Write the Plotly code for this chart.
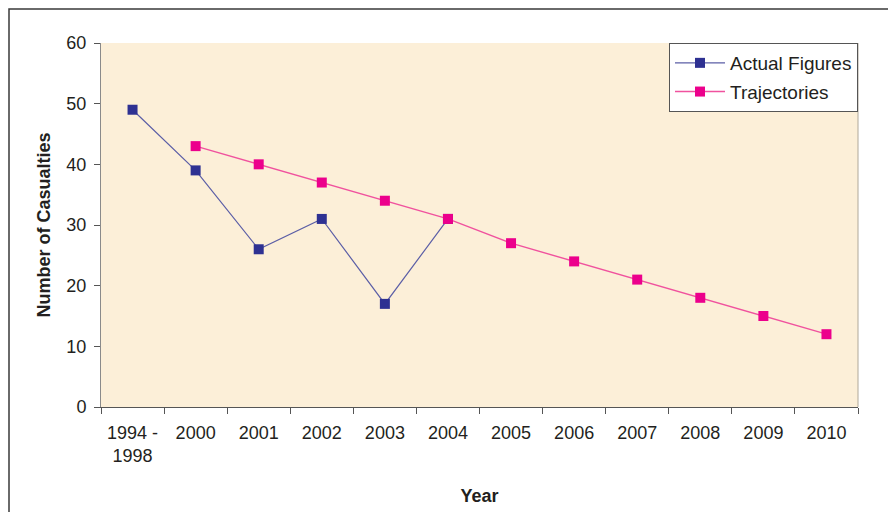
import plotly.graph_objects as go

# Casualty counts per period
years = ["1994 -<br>1998", "2000", "2001", "2002", "2003", "2004",
         "2005", "2006", "2007", "2008", "2009", "2010"]
actual_years = years[:6]
actual_values = [49, 39, 26, 31, 17, 31]
trajectory_years = years[1:]
trajectory_values = [43, 40, 37, 34, 31, 27, 24, 21, 18, 15, 12]

W, H = 888, 512
L, R, T, B = 101, 30, 43, 105
pw, ph = W - L - R, H - T - B

FONT = "Liberation Sans, Arial, sans-serif"
AXIS_COL = "#8a8a8a"
TEXT_COL = "#231f20"

fig = go.Figure()
fig.add_trace(go.Scatter(
    x=actual_years, y=actual_values, name="Actual Figures",
    mode="lines+markers", legendgroup="a",
    line=dict(color="#5b5ea6", width=1.2),
    marker=dict(symbol="square", size=10, color="#2e3192"),
))
fig.add_trace(go.Scatter(
    x=trajectory_years, y=trajectory_values, name="Trajectories",
    mode="lines+markers", legendgroup="t",
    line=dict(color="#f0529e", width=1.4),
    marker=dict(symbol="square", size=10, color="#ec008c"),
))

# outer frame around the whole chart
fig.add_shape(
    type="rect", xref="paper", yref="paper",
    x0=(9 - L) / pw, x1=(W + 5 - L) / pw,
    y0=-(H + 5 - T - ph) / ph, y1=1 + (T - 9) / ph,
    line=dict(color="#3a3a3a", width=1.5), layer="below",
)

fig.update_layout(
    width=W, height=H,
    margin=dict(l=L, r=R, t=T, b=B),
    paper_bgcolor="white",
    plot_bgcolor="#fcefd8",
    font=dict(family=FONT, size=18, color=TEXT_COL),
    showlegend=True,
    legend=dict(
        x=1, y=1, xanchor="right", yanchor="top",
        bgcolor="white", bordercolor="#555555", borderwidth=1,
        font=dict(size=19, color=TEXT_COL),
        itemwidth=50, tracegroupgap=1,
    ),
    xaxis=dict(
        type="category", categoryorder="array", categoryarray=years,
        tickson="boundaries", ticks="outside", ticklen=6,
        tickcolor="#555555", showline=True, linecolor="#555555", linewidth=1,
        showgrid=False, zeroline=False, tickangle=0, ticklabelstandoff=9,
        tickfont=dict(size=18, color=TEXT_COL), automargin=False,
        title=dict(text="<b>Year</b>", font=dict(size=18, color=TEXT_COL), standoff=24),
        range=[-0.5, 11.5], mirror=False,
    ),
    yaxis=dict(
        range=[0, 60], dtick=10, ticks="outside", ticklen=6,
        tickcolor="#555555", showline=True, linecolor=AXIS_COL, linewidth=1,
        showgrid=False, zeroline=False, ticklabelstandoff=4, automargin=False,
        tickfont=dict(size=18, color=TEXT_COL),
        title=dict(text="<b>Number of Casualties</b>", font=dict(size=18, color=TEXT_COL), standoff=11),
    ),
)

# right border of the plot area
fig.add_shape(type="line", xref="paper", yref="paper", x0=1, x1=1, y0=0, y1=1,
              line=dict(color="#b0a89a", width=1))

fig.write_html("out.html")
